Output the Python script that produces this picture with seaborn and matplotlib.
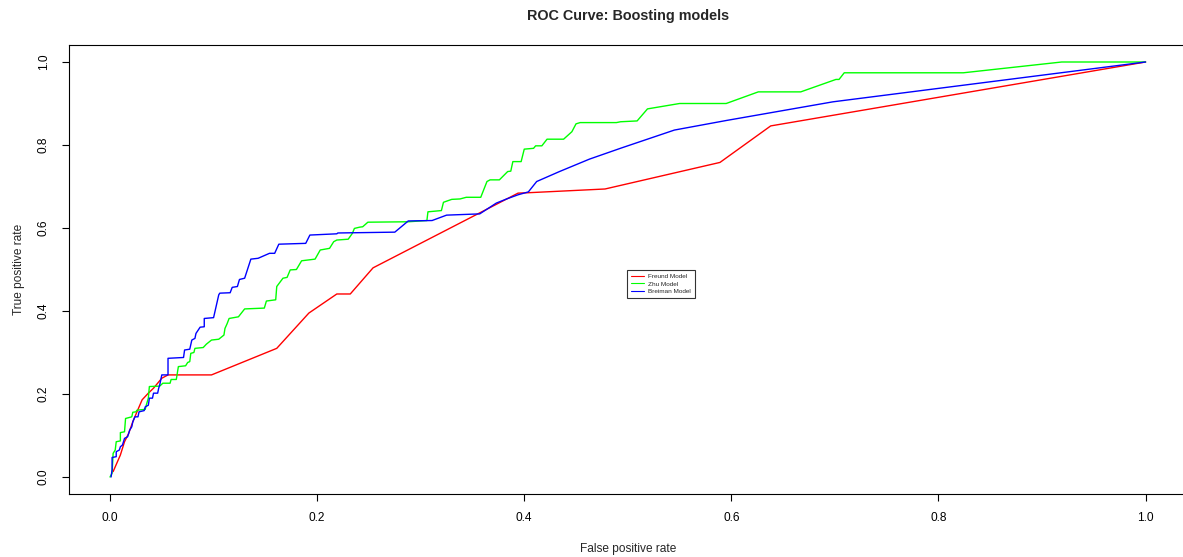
import matplotlib
matplotlib.use("Agg")
import matplotlib.pyplot as plt
import seaborn as sns
import pandas as pd

# ROC points (false positive rate, true positive rate) for each boosting model
freund_fpr = [0.003, 0.010, 0.014, 0.018, 0.022, 0.026, 0.031, 0.037, 0.042, 0.050,
              0.056, 0.098, 0.161, 0.192, 0.219, 0.232, 0.254, 0.394, 0.404, 0.478,
              0.589, 0.638, 1.000]
freund_tpr = [0.013, 0.053, 0.085, 0.105, 0.133, 0.157, 0.186, 0.202, 0.214, 0.238,
              0.246, 0.246, 0.310, 0.395, 0.441, 0.441, 0.504, 0.684, 0.685, 0.694,
              0.758, 0.846, 1.000]

zhu_fpr = [0.000, 0.002, 0.003, 0.005, 0.006, 0.010, 0.010, 0.014, 0.015, 0.021,
           0.022, 0.025, 0.026, 0.034, 0.035, 0.037, 0.038, 0.048, 0.051, 0.058,
           0.059, 0.064, 0.066, 0.073, 0.075, 0.077, 0.078, 0.081, 0.082, 0.090,
           0.093, 0.098, 0.105, 0.110, 0.111, 0.113, 0.115, 0.124, 0.130, 0.149,
           0.151, 0.160, 0.161, 0.167, 0.171, 0.174, 0.180, 0.185, 0.198, 0.203,
           0.212, 0.216, 0.219, 0.230, 0.234, 0.236, 0.241, 0.244, 0.249, 0.288,
           0.306, 0.307, 0.320, 0.322, 0.330, 0.338, 0.344, 0.358, 0.364, 0.367,
           0.376, 0.384, 0.387, 0.389, 0.397, 0.400, 0.409, 0.411, 0.417, 0.422,
           0.438, 0.446, 0.450, 0.454, 0.489, 0.493, 0.509, 0.519, 0.550, 0.595,
           0.626, 0.667, 0.701, 0.704, 0.709, 0.824, 0.919, 1.000]
zhu_tpr = [0.000, 0.009, 0.057, 0.065, 0.085, 0.087, 0.107, 0.109, 0.141, 0.145,
           0.156, 0.157, 0.161, 0.163, 0.173, 0.190, 0.218, 0.219, 0.226, 0.226,
           0.235, 0.235, 0.266, 0.268, 0.276, 0.278, 0.298, 0.300, 0.310, 0.312,
           0.320, 0.330, 0.332, 0.342, 0.358, 0.369, 0.382, 0.386, 0.405, 0.407,
           0.424, 0.427, 0.459, 0.479, 0.481, 0.499, 0.500, 0.521, 0.525, 0.547,
           0.551, 0.567, 0.571, 0.573, 0.587, 0.599, 0.602, 0.603, 0.614, 0.615,
           0.618, 0.639, 0.642, 0.662, 0.669, 0.670, 0.674, 0.674, 0.712, 0.716,
           0.716, 0.736, 0.737, 0.760, 0.760, 0.790, 0.792, 0.798, 0.798, 0.814,
           0.814, 0.832, 0.851, 0.854, 0.854, 0.856, 0.858, 0.887, 0.900, 0.900,
           0.928, 0.928, 0.958, 0.958, 0.974, 0.974, 1.000, 1.000]

breiman_fpr = [0.001, 0.002, 0.002, 0.006, 0.006, 0.009, 0.010, 0.012, 0.014, 0.017,
               0.019, 0.021, 0.022, 0.024, 0.027, 0.028, 0.033, 0.034, 0.037, 0.038,
               0.041, 0.042, 0.046, 0.047, 0.048, 0.050, 0.056, 0.056, 0.071, 0.072,
               0.077, 0.079, 0.082, 0.083, 0.087, 0.091, 0.091, 0.100, 0.105, 0.106,
               0.116, 0.118, 0.123, 0.125, 0.130, 0.136, 0.143, 0.154, 0.159, 0.163,
               0.189, 0.193, 0.219, 0.220, 0.275, 0.288, 0.311, 0.325, 0.357, 0.373,
               0.383, 0.394, 0.404, 0.412, 0.434, 0.463, 0.494, 0.545, 0.595, 0.698,
               1.000]
breiman_tpr = [0.000, 0.017, 0.047, 0.049, 0.061, 0.065, 0.073, 0.077, 0.093, 0.097,
               0.113, 0.121, 0.133, 0.145, 0.145, 0.157, 0.160, 0.169, 0.173, 0.190,
               0.190, 0.202, 0.202, 0.214, 0.222, 0.246, 0.246, 0.286, 0.288, 0.306,
               0.308, 0.330, 0.334, 0.346, 0.361, 0.362, 0.382, 0.384, 0.439, 0.443,
               0.444, 0.457, 0.459, 0.476, 0.479, 0.525, 0.527, 0.539, 0.539, 0.561,
               0.563, 0.583, 0.586, 0.588, 0.590, 0.617, 0.618, 0.631, 0.634, 0.660,
               0.670, 0.680, 0.687, 0.712, 0.736, 0.766, 0.793, 0.836, 0.859, 0.904,
               1.000]

model_names = ["Freund Model", "Zhu Model", "Breiman Model"]
model_colors = ["#FF0000", "#00FF00", "#0000FF"]
axis_ticks = [0.0, 0.2, 0.4, 0.6, 0.8, 1.0]
tick_labels = ["0.0", "0.2", "0.4", "0.6", "0.8", "1.0"]

frames = []
for name, fpr, tpr in zip(model_names,
                          [freund_fpr, zhu_fpr, breiman_fpr],
                          [freund_tpr, zhu_tpr, breiman_tpr]):
    frames.append(pd.DataFrame({"fpr": fpr, "tpr": tpr, "model": name}))
roc = pd.concat(frames, ignore_index=True)

sns.set_style("white")
plt.rcParams["font.family"] = ["Liberation Sans", "DejaVu Sans"]

W, H = 1183, 557
fig = plt.figure(figsize=(W / 100, H / 100), dpi=100)
ax = fig.add_axes([68.6 / W, 1 - 493.6 / H, (1187 - 68.6) / W, (493.6 - 45.4) / H])

sns.lineplot(data=roc, x="fpr", y="tpr", hue="model", hue_order=model_names,
             palette=dict(zip(model_names, model_colors)), sort=False,
             estimator=None, linewidth=1.0, legend=False, ax=ax)

ax.set_xlim(-0.04, 1.04)
ax.set_ylim(-0.04, 1.04)
ax.set_xticks(axis_ticks)
ax.set_xticklabels(tick_labels)
ax.set_yticks(axis_ticks)
ax.set_yticklabels(tick_labels, rotation=90, va="center")
ax.tick_params(axis="both", direction="out", length=5, width=0.8, color="black",
               labelsize=8.6, labelcolor="black", left=True, bottom=True)
ax.tick_params(axis="x", pad=8)
ax.tick_params(axis="y", pad=8.5)
for sp in ax.spines.values():
    sp.set_color("black")
    sp.set_linewidth(0.8)
    sp.set_visible(True)

ax.set_title("ROC Curve: Boosting models", fontsize=10.4, fontweight="bold", pad=18.5)
ax.set_xlabel("False positive rate", fontsize=8.6)
ax.set_ylabel("True positive rate", fontsize=8.6)
ax.xaxis.set_label_coords(0.5, -0.110)
ax.yaxis.set_label_coords(-0.0394, 0.5)

handles = ax.lines[:3]
leg = ax.legend(handles, model_names, loc="upper left",
                bbox_to_anchor=(627 / W, 1 - 270 / H), bbox_transform=fig.transFigure,
                borderaxespad=0, fontsize=4.6, frameon=True, fancybox=False,
                handlelength=2.0, handletextpad=0.75, labelspacing=0.3, borderpad=0.6)
leg.get_frame().set_edgecolor("black")
leg.get_frame().set_linewidth(0.8)
for line in leg.get_lines():
    line.set_linewidth(0.8)

fig.savefig("out.png", dpi=100, facecolor="white")
